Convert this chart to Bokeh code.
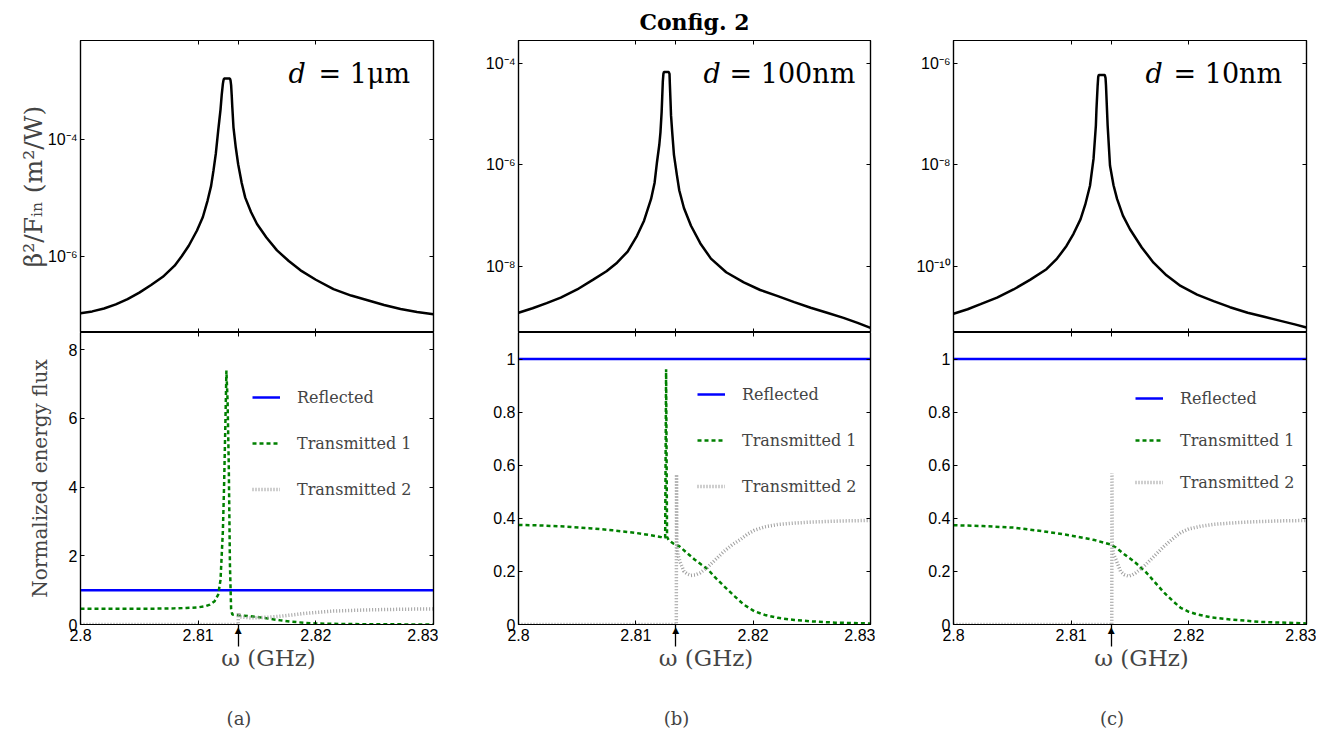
import math
from bokeh.plotting import figure
from bokeh.models import (Range1d, FixedTicker, Label, Legend, LegendItem, LinearAxis, LogAxis)
from bokeh.layouts import row, column
from bokeh.embed import file_html
from bokeh.resources import INLINE

# ---------------- data ----------------
freq_range = (2.80, 2.83)
freq_ticks = [2.8, 2.81, 2.8134, 2.82, 2.83]
freq_label_ticks = [2.8, 2.81, 2.82, 2.83]
freq_tick_labels = ["2.8", "2.81", "2.82", "2.83"]
resonance_freq = 2.8134          # marked by an arrow under each bottom panel

panel_tags = ["(a)", "(b)", "(c)"]
thickness_values = ["1μm", "100nm", "10nm"]
title_text = "Config. 2"

# top panels: beta^2 / F_in, stored as log10 exponents
top_freq_a = [2.8000, 2.8010, 2.8020, 2.8030, 2.8040, 2.8050, 2.8060, 2.8070, 2.8080, 2.8086,
              2.8092, 2.8099, 2.8104, 2.8108, 2.8111, 2.8113, 2.8115, 2.8117, 2.8118, 2.8119,
              2.8120, 2.8121, 2.81215, 2.8122, 2.8125, 2.8127, 2.81275, 2.8128, 2.81285, 2.8129,
              2.8130, 2.8132, 2.8134, 2.8137, 2.8140, 2.8145, 2.8150, 2.8158, 2.8167, 2.8177,
              2.8187, 2.8200, 2.8215, 2.8230, 2.8244, 2.8258, 2.8272, 2.8286, 2.8300]
top_exp_a = [-6.97, -6.94, -6.89, -6.82, -6.73, -6.62, -6.49, -6.35, -6.16, -6.00,
             -5.82, -5.56, -5.33, -5.05, -4.80, -4.54, -4.25, -3.86, -3.68, -3.50,
             -3.25, -3.06, -3.00, -2.97, -2.97, -2.97, -3.00, -3.08, -3.25, -3.45,
             -3.80, -4.15, -4.43, -4.75, -5.00, -5.25, -5.45, -5.68, -5.90, -6.08,
             -6.24, -6.40, -6.56, -6.67, -6.75, -6.83, -6.90, -6.95, -6.99]

top_freq_b = [2.8000, 2.8012, 2.8024, 2.8036, 2.8050, 2.8064, 2.8075, 2.8084, 2.8093, 2.8101,
              2.8107, 2.8113, 2.8116, 2.8118, 2.8120, 2.8121, 2.8122, 2.81225, 2.8123, 2.81235,
              2.8124, 2.8128, 2.81287, 2.8129, 2.81295, 2.8130, 2.8131, 2.81325, 2.8135, 2.8137,
              2.8141, 2.8147, 2.8155, 2.8164, 2.8177, 2.8192, 2.8206, 2.8221, 2.8235, 2.8249,
              2.8263, 2.8277, 2.8289, 2.8300]
top_exp_b = [-8.92, -8.83, -8.73, -8.62, -8.46, -8.26, -8.10, -7.93, -7.71, -7.40,
             -7.10, -6.67, -6.35, -5.95, -5.60, -5.35, -4.95, -4.65, -4.35, -4.20,
             -4.16, -4.16, -4.20, -4.40, -4.70, -5.02, -5.35, -5.80, -6.20, -6.50,
             -6.85, -7.20, -7.55, -7.85, -8.12, -8.32, -8.47, -8.59, -8.71, -8.82,
             -8.92, -9.02, -9.12, -9.22]

top_freq_c = [2.8000, 2.8012, 2.8023, 2.8037, 2.8051, 2.8065, 2.8079, 2.8088, 2.8096, 2.8102,
              2.8108, 2.8112, 2.8116, 2.8119, 2.8121, 2.81215, 2.81225, 2.8123, 2.81235, 2.81285,
              2.81292, 2.81296, 2.8131, 2.8133, 2.8136, 2.8139, 2.8144, 2.8150, 2.8160, 2.8170,
              2.8181, 2.8193, 2.8207, 2.8221, 2.8235, 2.8250, 2.8264, 2.8278, 2.8290, 2.8300]
top_exp_c = [-10.94, -10.85, -10.75, -10.62, -10.46, -10.27, -10.06, -9.85, -9.60, -9.36,
             -9.07, -8.78, -8.41, -7.88, -7.22, -6.90, -6.43, -6.26, -6.22, -6.22,
             -6.28, -6.43, -7.22, -8.01, -8.40, -8.67, -9.00, -9.27, -9.63, -9.93,
             -10.18, -10.39, -10.56, -10.69, -10.81, -10.92, -11.00, -11.08, -11.15, -11.21]

top_yrange_exp = [(-7.30, -2.32), (-9.31, -3.54), (-11.31, -5.54)]
top_tick_exp = [[-6, -4], [-8, -6, -4], [-10, -8, -6]]
top_tick_labels = [["10⁻⁶", "10⁻⁴"], ["10⁻⁸", "10⁻⁶", "10⁻⁴"], ["10⁻¹⁰", "10⁻⁸", "10⁻⁶"]]

# bottom panels: normalized energy flux
refl_freq = [2.80, 2.83]
refl_val = [1.0, 1.0]

t1_freq_a = [2.8000, 2.8030, 2.8060, 2.8080, 2.8090, 2.8100, 2.8106, 2.8110, 2.8114, 2.8117,
             2.8119, 2.8121, 2.8122, 2.8123, 2.8124, 2.8125, 2.8126, 2.8127, 2.8128, 2.8129,
             2.8134, 2.8142, 2.8150, 2.8160, 2.8170, 2.8180, 2.8190, 2.8200, 2.8220, 2.8250,
             2.8300]
t1_val_a = [0.455, 0.457, 0.46, 0.47, 0.48, 0.50, 0.53, 0.58, 0.68, 0.87,
            1.30, 2.72, 4.00, 5.64, 7.39, 6.50, 4.66, 1.75, 0.45, 0.29,
            0.27, 0.25, 0.22, 0.17, 0.12, 0.08, 0.05, 0.03, 0.015, 0.007,
            0.0]
t2_freq_a = [2.8000, 2.8134, 2.81342, 2.8136, 2.8145, 2.8152, 2.8160, 2.8168, 2.8175, 2.8183,
             2.8190, 2.8200, 2.8215, 2.8230, 2.8250, 2.8275, 2.8300]
t2_val_a = [0.0, 0.0, 0.34, 0.22, 0.19, 0.20, 0.215, 0.235, 0.26, 0.29,
            0.32, 0.35, 0.39, 0.41, 0.43, 0.445, 0.455]

t1_freq_b = [2.8000, 2.8020, 2.8039, 2.8060, 2.8080, 2.8100, 2.8112, 2.8121, 2.8125, 2.81258,
             2.81266, 2.8128, 2.8132, 2.8137, 2.8143, 2.8150, 2.8156, 2.8161, 2.8167, 2.8175,
             2.8184, 2.8192, 2.8201, 2.8210, 2.8221, 2.8235, 2.8249, 2.8270, 2.8300]
t1_val_b = [0.375, 0.373, 0.369, 0.363, 0.355, 0.345, 0.337, 0.330, 0.327, 0.962,
            0.330, 0.318, 0.305, 0.295, 0.272, 0.245, 0.225, 0.210, 0.180, 0.145,
            0.107, 0.075, 0.050, 0.036, 0.025, 0.017, 0.012, 0.007, 0.004]
t2_freq_b = [2.8000, 2.81345, 2.81347, 2.81349, 2.8136, 2.8138, 2.8141, 2.8144, 2.8147, 2.8151,
             2.8155, 2.8161, 2.8168, 2.8175, 2.8182, 2.8189, 2.8195, 2.8201, 2.8210, 2.8221,
             2.8235, 2.8250, 2.8275, 2.8300]
t2_val_b = [0.0, 0.0, 0.565, 0.30, 0.26, 0.233, 0.20, 0.19, 0.185, 0.187,
            0.195, 0.215, 0.245, 0.275, 0.30, 0.32, 0.34, 0.355, 0.368, 0.377,
            0.382, 0.386, 0.39, 0.392]

t1_freq_c = [2.8000, 2.8025, 2.8051, 2.8075, 2.8099, 2.8120, 2.8133, 2.8138, 2.8143, 2.8148,
             2.8153, 2.8158, 2.8164, 2.8171, 2.8179, 2.8186, 2.8193, 2.8200, 2.8207, 2.8220,
             2.8235, 2.8260, 2.8300]
t1_val_c = [0.374, 0.371, 0.365, 0.352, 0.336, 0.318, 0.302, 0.29, 0.272, 0.255,
            0.239, 0.22, 0.195, 0.16, 0.12, 0.09, 0.063, 0.048, 0.038, 0.026,
            0.019, 0.010, 0.004]
t2_freq_c = [2.8000, 2.81345, 2.81347, 2.81349, 2.8136, 2.8138, 2.8142, 2.8145, 2.8149, 2.8152,
             2.8155, 2.8162, 2.8170, 2.8179, 2.8186, 2.8193, 2.8200, 2.8210, 2.8221, 2.8235,
             2.8250, 2.8275, 2.8300]
t2_val_c = [0.0, 0.0, 0.57, 0.30, 0.265, 0.245, 0.20, 0.188, 0.182, 0.187,
            0.195, 0.22, 0.255, 0.295, 0.322, 0.346, 0.36, 0.37, 0.377, 0.382,
            0.386, 0.39, 0.392]

bot_ymax = [8.5, 1.1, 1.1]
bot_ticks = [[0, 2, 4, 6, 8], [0, 0.2, 0.4, 0.6, 0.8, 1], [0, 0.2, 0.4, 0.6, 0.8, 1]]
bot_tick_labels = [["0", "2", "4", "6", "8"], ["0", "0.2", "0.4", "0.6", "0.8", "1"],
                   ["0", "0.2", "0.4", "0.6", "0.8", "1"]]
legend_names = ["Reflected", "Transmitted 1", "Transmitted 2"]
y_label_top = "β²/Fᵢₙ (m²/W)"
y_label_bottom = "Normalized energy flux"
x_label = "ω (GHz)"

top_freq = [top_freq_a, top_freq_b, top_freq_c]
top_exp = [top_exp_a, top_exp_b, top_exp_c]
t1_freq = [t1_freq_a, t1_freq_b, t1_freq_c]
t1_val = [t1_val_a, t1_val_b, t1_val_c]
t2_freq = [t2_freq_a, t2_freq_b, t2_freq_c]
t2_val = [t2_val_a, t2_val_b, t2_val_c]

# ---------------- styling / layout ----------------
SANS = "Liberation Sans"
SERIF = "DejaVu Serif"
FRAME_H = 292
frame_w = [353, 352, 353]
border_left = [80, 80, 78]
border_right = [5, 5, 10]
d_offsets = [(-145, -115), (-167, -141), (-161, -133)]
legend_loc = [(172, 123), (179, 126), (182, 130)]
legend_spacing = [22, 22, 18]


def style_axis(ax, ticks, labels=None, standoff=4, minor=None):
    ax.ticker = FixedTicker(ticks=ticks, minor_ticks=minor or [])
    ax.major_tick_in = 4
    ax.major_tick_out = 0
    ax.minor_tick_in = 0
    ax.minor_tick_out = 0
    ax.axis_line_color = "black"
    ax.axis_line_width = 1.2
    ax.major_tick_line_color = "black"
    ax.major_tick_line_width = 1
    ax.minor_tick_line_color = "black"
    ax.minor_tick_line_width = 1
    if labels is None:
        ax.major_label_text_font_size = "0px"
        ax.major_label_standoff = 0
        ax.major_label_text_alpha = 0
    else:
        ax.major_label_overrides = {t: l for t, l in zip(ticks, labels)}
        ax.major_label_text_font = SANS
        ax.major_label_text_font_size = "16px"
        ax.major_label_standoff = standoff
        ax.major_label_text_color = "black"


def make_top(i):
    ylo, yhi = (10 ** e for e in top_yrange_exp[i])
    p = figure(frame_width=frame_w[i], frame_height=FRAME_H,
               x_range=Range1d(*freq_range), y_range=Range1d(ylo, yhi),
               y_axis_type="log", output_backend="svg", toolbar_location=None,
               min_border_left=border_left[i], min_border_right=border_right[i],
               min_border_top=40, min_border_bottom=0)
    p.grid.visible = False
    p.outline_line_color = "black"
    p.outline_line_width = 1.2
    yt = [10 ** e for e in top_tick_exp[i]]
    style_axis(p.xaxis[0], freq_ticks)
    style_axis(p.yaxis[0], yt, top_tick_labels[i], standoff=3)
    ax_t = LinearAxis()
    style_axis(ax_t, freq_ticks)
    p.add_layout(ax_t, "above")
    ax_r = LogAxis()
    style_axis(ax_r, yt)
    p.add_layout(ax_r, "right")

    p.line(top_freq[i], [10 ** e for e in top_exp[i]], line_color="black", line_width=2.5)

    od, oe = d_offsets[i]
    p.add_layout(Label(x=freq_range[1], y=yhi, x_offset=od, y_offset=-33, text="d",
                       text_font=SERIF, text_font_size="27px", text_font_style="italic",
                       text_align="left", text_baseline="middle", text_color="black"))
    p.add_layout(Label(x=freq_range[1], y=yhi, x_offset=oe, y_offset=-33,
                       text="= " + thickness_values[i],
                       text_font=SERIF, text_font_size="27px", text_font_style="normal",
                       text_align="left", text_baseline="middle", text_color="black"))
    if i == 0:
        ya = p.yaxis[0]
        ya.axis_label = y_label_top
        ya.axis_label_text_font = SERIF
        ya.axis_label_text_font_size = "25px"
        ya.axis_label_text_font_style = "normal"
        ya.axis_label_standoff = -3
    if i == 1:
        p.title.text = title_text
        p.title.text_font = SERIF
        p.title.text_font_size = "22px"
        p.title.text_font_style = "bold"
        p.title.align = "center"
        p.title.standoff = 12
        p.title.offset = -4
        p.title.text_color = "black"
    return p


def make_bottom(i):
    p = figure(frame_width=frame_w[i], frame_height=FRAME_H,
               x_range=Range1d(*freq_range), y_range=Range1d(0, bot_ymax[i]),
               output_backend="svg", toolbar_location=None,
               min_border_left=border_left[i], min_border_right=border_right[i],
               min_border_top=0, min_border_bottom=108)
    p.grid.visible = False
    p.outline_line_color = "black"
    p.outline_line_width = 1.2

    # axis 1 (at the frame edge): inner ticks as minor ticks, the resonance arrow as the
    # single major tick pointing outward with a small triangle head
    xa = p.xaxis[0]
    style_axis(xa, [resonance_freq], ["▲"], minor=freq_label_ticks)
    xa.major_tick_in = 0
    xa.major_tick_out = 22
    xa.major_tick_line_width = 1.3
    xa.minor_tick_in = 4
    xa.minor_tick_out = 0
    xa.major_label_text_font = "DejaVu Sans"
    xa.major_label_text_font_size = "9px"
    xa.major_label_standoff = -22

    # axis 2: the numeric tick labels and the axis title
    xl = LinearAxis()
    style_axis(xl, freq_label_ticks, freq_tick_labels, standoff=-9)
    xl.major_tick_in = 0
    xl.axis_line_color = None
    xl.major_tick_line_color = None
    xl.axis_label = "\u2003" + x_label
    xl.axis_label_text_font = SERIF
    xl.axis_label_text_font_size = "23px"
    xl.axis_label_text_font_style = "normal"
    xl.axis_label_standoff = 1
    p.add_layout(xl, "below")

    # axis 3 (empty): carries the panel tag
    tag_axis = LinearAxis()
    style_axis(tag_axis, [])
    tag_axis.axis_line_color = None
    tag_axis.axis_label = panel_tags[i] + "\u2003\u2003"
    tag_axis.axis_label_text_font = SERIF
    tag_axis.axis_label_text_font_size = "18px"
    tag_axis.axis_label_text_font_style = "normal"
    tag_axis.axis_label_standoff = 34
    p.add_layout(tag_axis, "below")

    style_axis(p.yaxis[0], bot_ticks[i], bot_tick_labels[i], standoff=3)
    ax_t = LinearAxis()
    style_axis(ax_t, freq_ticks)
    p.add_layout(ax_t, "above")
    ax_r = LinearAxis()
    style_axis(ax_r, bot_ticks[i])
    p.add_layout(ax_r, "right")
    if i == 0:
        ya = p.yaxis[0]
        ya.axis_label = y_label_bottom
        ya.axis_label_text_font = SERIF
        ya.axis_label_text_font_size = "20px"
        ya.axis_label_text_font_style = "normal"
        ya.axis_label_standoff = 14

    r0 = p.line(refl_freq, refl_val, line_color="#0000ff", line_width=2.5)
    r1 = p.line(t1_freq[i], t1_val[i], line_color="#008000", line_width=2.5, line_dash="4 3")
    r2 = p.line(t2_freq[i], t2_val[i], line_color="#a0a0a0", line_width=3.5, line_dash="1 2")

    legend = Legend(items=[LegendItem(label=legend_names[0], renderers=[r0]),
                           LegendItem(label=legend_names[1], renderers=[r1]),
                           LegendItem(label=legend_names[2], renderers=[r2])],
                    location=legend_loc[i], border_line_color=None, background_fill_alpha=0,
                    label_text_font=SERIF, label_text_font_size="16px",
                    glyph_width=28, glyph_height=24, label_height=24, spacing=legend_spacing[i],
                    padding=0, margin=0, label_standoff=17)
    p.add_layout(legend)
    return p


cols = [column(make_top(i), make_bottom(i)) for i in range(3)]
layout = row(*cols)

open("out.html", "w").write(file_html(layout, INLINE))
